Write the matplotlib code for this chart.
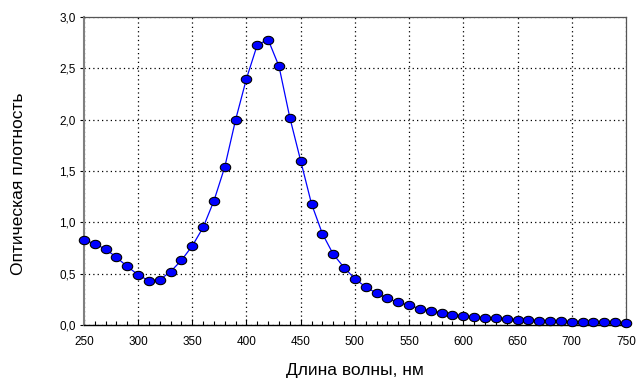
import numpy as np
import matplotlib
matplotlib.use("Agg")
import matplotlib.pyplot as plt
from matplotlib.path import Path
from matplotlib.ticker import MultipleLocator, FuncFormatter

plt.rcParams['font.family'] = ['Liberation Sans', 'DejaVu Sans']

wavelength = list(range(250, 760, 10))
absorbance = [0.83, 0.79, 0.74, 0.66, 0.57, 0.49, 0.43, 0.44, 0.52, 0.63,
              0.77, 0.95, 1.21, 1.54, 2.00, 2.40, 2.73, 2.78, 2.52, 2.02,
              1.60, 1.18, 0.89, 0.69, 0.56, 0.45, 0.37, 0.31, 0.26, 0.22,
              0.19, 0.16, 0.14, 0.12, 0.10, 0.09, 0.08, 0.07, 0.07, 0.06,
              0.05, 0.05, 0.04, 0.04, 0.035, 0.03, 0.03, 0.03, 0.025, 0.025,
              0.02]

# slightly flattened circle, like the original marker
t = np.linspace(0, 2 * np.pi, 41)
ellipse = Path(np.column_stack([np.cos(t), 0.8 * np.sin(t)]), closed=True)

fig = plt.figure(figsize=(6.4, 3.79), dpi=100)
ax = fig.add_axes([0.131, 0.1425, 0.847, 0.8125])

ax.plot(wavelength, absorbance, color='#0000ff', linewidth=0.9,
        marker=ellipse, markersize=7.5, markerfacecolor='#0000ff',
        markeredgecolor='black', markeredgewidth=0.8, zorder=3, clip_on=False)

ax.set_xlim(250, 750)
ax.set_ylim(0, 3.0)
ax.xaxis.set_major_locator(MultipleLocator(50))
ax.xaxis.set_minor_locator(MultipleLocator(10))
ax.yaxis.set_major_locator(MultipleLocator(0.5))
ax.yaxis.set_major_formatter(FuncFormatter(lambda v, p: f"{v:.1f}".replace('.', ',')))

ax.grid(True, which='major', color='black', linestyle=(0, (1, 2.5)), linewidth=0.9)

for side in ['top', 'right']:
    ax.spines[side].set_color('#555555')
    ax.spines[side].set_linewidth(0.9)
ax.spines['left'].set_color('#808080')
ax.spines['left'].set_linewidth(1.5)
ax.spines['bottom'].set_color('black')
ax.spines['bottom'].set_linewidth(1.0)

ax.tick_params(axis='x', which='major', direction='in', length=4, width=0.8,
               labelsize=8.5, pad=8)
ax.tick_params(axis='x', which='minor', direction='in', length=3, width=0.8)
ax.tick_params(axis='y', which='major', direction='out', length=3, width=0.8,
               labelsize=8.5, pad=3)

ax.set_xlabel('Длина волны, нм', fontsize=12.5, labelpad=11)
ax.set_ylabel('Оптическая плотность', fontsize=12.5)
ax.yaxis.set_label_coords(-0.106, 0.46)

fig.savefig('out.png', dpi=100)
